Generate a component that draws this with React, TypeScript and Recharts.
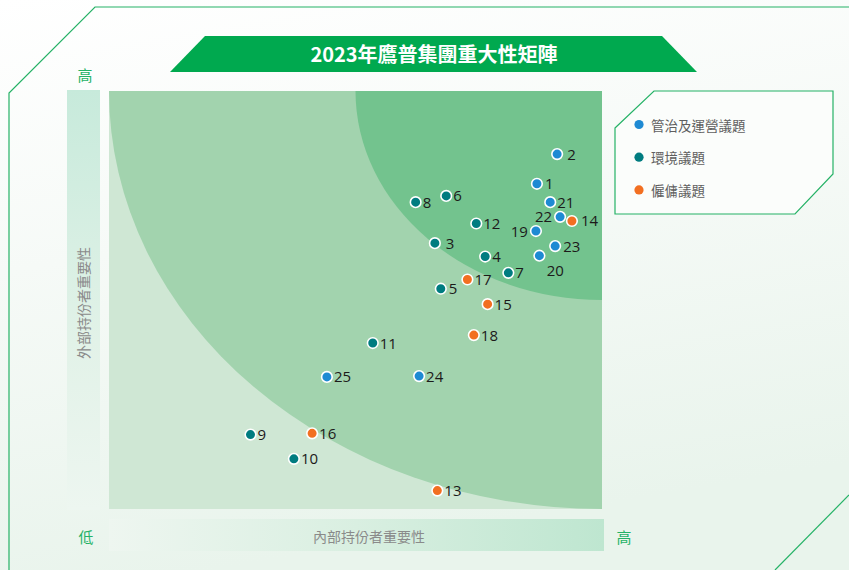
import { ReferenceArea, Scatter, ScatterChart, XAxis, YAxis } from 'recharts';

type Issue = { id: number; internal: number; external: number };

// internal = 內部持份者重要性 (x), external = 外部持份者重要性 (y), both 0–100
const governanceIssues: Issue[] = [
  { id: 1, internal: 86.8, external: 77.8 },
  { id: 2, internal: 90.9, external: 84.9 },
  { id: 19, internal: 86.6, external: 66.5 },
  { id: 20, internal: 87.3, external: 60.6 },
  { id: 21, internal: 89.5, external: 73.4 },
  { id: 22, internal: 91.5, external: 69.9 },
  { id: 23, internal: 90.5, external: 62.9 },
  { id: 24, internal: 62.9, external: 31.8 },
  { id: 25, internal: 44.2, external: 31.6 }
];

const environmentIssues: Issue[] = [
  { id: 3, internal: 66.1, external: 63.6 },
  { id: 4, internal: 76.3, external: 60.4 },
  { id: 5, internal: 67.3, external: 52.7 },
  { id: 6, internal: 68.4, external: 74.9 },
  { id: 7, internal: 81.0, external: 56.5 },
  { id: 8, internal: 62.2, external: 73.4 },
  { id: 9, internal: 28.7, external: 17.8 },
  { id: 10, internal: 37.5, external: 12.0 },
  { id: 11, internal: 53.5, external: 39.7 },
  { id: 12, internal: 74.5, external: 68.3 }
];

const employmentIssues: Issue[] = [
  { id: 13, internal: 66.6, external: 4.4 },
  { id: 14, internal: 93.9, external: 68.9 },
  { id: 15, internal: 76.8, external: 49.0 },
  { id: 16, internal: 41.2, external: 18.1 },
  { id: 17, internal: 72.7, external: 54.9 },
  { id: 18, internal: 74.0, external: 41.6 }
];

const series = [
  { name: '管治及運營議題', data: governanceIssues, color: '#1e8ad3' },
  { name: '環境議題', data: environmentIssues, color: '#007c80' },
  { name: '僱傭議題', data: employmentIssues, color: '#f26f21' }
];

// where the number sits relative to its dot (default: right)
const labelSide: Record<number, 'left' | 'below'> = { 19: 'left', 22: 'left', 20: 'below' };
const labelGap: Record<number, number> = { 2: 10, 3: 11, 14: 9, 23: 8, 5: 8, 1: 8 };

const green = '#25b266';
const cjk = '"Noto Sans CJK TC", "Noto Sans", sans-serif';

function MatrixBackground(props: any) {
  const { x, y, width: w, height: h } = props;
  const right = x + w;
  return (
    <g>
      <rect x={x} y={y} width={w} height={h} fill="#cfe7d4" />
      <path d={`M${right},${y} L${x},${y} A${w},${h} 0 0 0 ${right},${y + h} Z`} fill="#a2d3ae" />
      <path d={`M${right},${y} L${right - w / 2},${y} A${w / 2},${h / 2} 0 0 0 ${right},${y + h / 2} Z`} fill="#73c38e" />
    </g>
  );
}

function IssueDot(props: any) {
  const { cx, cy, payload, color } = props;
  const side = labelSide[payload.id];
  let tx = cx + (labelGap[payload.id] ?? 7);
  let ty = cy + 5.5;
  let anchor: 'start' | 'end' | 'middle' = 'start';
  if (side === 'left') {
    tx = cx - 8;
    anchor = 'end';
  } else if (side === 'below') {
    tx = cx + 16;
    ty = cy + 20;
    anchor = 'middle';
  }
  return (
    <g>
      <circle cx={cx} cy={cy} r={5.3} fill={color} stroke="#fff" strokeWidth={1.6} />
      <text x={tx} y={ty} textAnchor={anchor} fontSize={15} fill="#1c1a1a" fontFamily='"Open Sans", sans-serif'>
        {payload.id}
      </text>
    </g>
  );
}

function Decorations() {
  return (
    <svg width={849} height={570} style={{ position: 'absolute', left: 0, top: 0 }}>
      <defs>
        <linearGradient id="pageBg" x1="0" y1="0" x2="0.25" y2="1">
          <stop offset="0" stopColor="#ffffff" />
          <stop offset="0.45" stopColor="#f6faf7" />
          <stop offset="1" stopColor="#e9f4ec" />
        </linearGradient>
        <linearGradient id="yBand" x1="0" y1="0" x2="0" y2="1">
          <stop offset="0" stopColor="#c7eadb" />
          <stop offset="0.6" stopColor="#e2f2e8" />
          <stop offset="1" stopColor="#edf6f0" />
        </linearGradient>
        <linearGradient id="xBand" x1="0" y1="0" x2="1" y2="0">
          <stop offset="0" stopColor="#eef6f0" />
          <stop offset="0.5" stopColor="#d9efe1" />
          <stop offset="1" stopColor="#bee6d0" />
        </linearGradient>
      </defs>
      <rect width={849} height={570} fill="url(#pageBg)" />
      <polyline points="9,570 9,93 95,7 849,7" fill="none" stroke={green} strokeWidth={1.2} />
      <line x1={849} y1={495} x2={775} y2={570} stroke={green} strokeWidth={1.2} />

      <polygon points="205,36 662,36 697,72 170,72" fill="#00a94f" />
      <text x={434} y={62} textAnchor="middle" fontSize={20} fontWeight={700} fill="#fff" fontFamily={cjk}>
        2023年鷹普集團重大性矩陣
      </text>

      <rect x={67} y={90} width={33} height={420} fill="url(#yBand)" />
      <text
        x={83}
        y={303}
        transform="rotate(-90 83 303)"
        textAnchor="middle"
        dominantBaseline="central"
        fontSize={14}
        fill="#8a8a8a"
        fontFamily={cjk}
      >
        外部持份者重要性
      </text>
      <rect x={109} y={519} width={495} height={32} fill="url(#xBand)" />
      <text x={369} y={536} textAnchor="middle" dominantBaseline="central" fontSize={14} fill="#8a8a8a" fontFamily={cjk}>
        內部持份者重要性
      </text>

      <text x={85} y={74} textAnchor="middle" dominantBaseline="central" fontSize={15} fill={green} fontFamily={cjk}>高</text>
      <text x={86} y={536} textAnchor="middle" dominantBaseline="central" fontSize={15} fill={green} fontFamily={cjk}>低</text>
      <text x={624} y={536} textAnchor="middle" dominantBaseline="central" fontSize={15} fill={green} fontFamily={cjk}>高</text>

      <polygon points="615,128 654,91 833,91 833,174 795,214 615,214" fill="#fbfdfb" stroke={green} strokeWidth={1.2} />
      {series.map((s, i) => (
        <g key={s.name}>
          <circle cx={639} cy={124.5 + i * 32.7} r={4.6} fill={s.color} />
          <text x={651} y={124.5 + i * 32.7} dominantBaseline="central" fontSize={13.5} fill="#5f5f5f" fontFamily={cjk}>
            {s.name}
          </text>
        </g>
      ))}
    </svg>
  );
}

export default function App() {
  return (
    <div style={{ position: 'relative', width: 849, height: 570, overflow: 'hidden' }}>
      <style>{'body{margin:0}'}</style>
      <Decorations />
      <div style={{ position: 'absolute', left: 0, top: 0 }}>
        <ScatterChart width={849} height={570} margin={{ top: 91, right: 247, bottom: 61, left: 109 }}>
          <XAxis type="number" dataKey="internal" domain={[0, 100]} hide />
          <YAxis type="number" dataKey="external" domain={[0, 100]} hide />
          <ReferenceArea x1={0} x2={100} y1={0} y2={100} shape={MatrixBackground} ifOverflow="visible" />
          {series.map((s) => (
            <Scatter
              key={s.name}
              name={s.name}
              data={s.data}
              fill={s.color}
              isAnimationActive={false}
              shape={(p: any) => <IssueDot {...p} color={s.color} />}
            />
          ))}
        </ScatterChart>
      </div>
    </div>
  );
}
